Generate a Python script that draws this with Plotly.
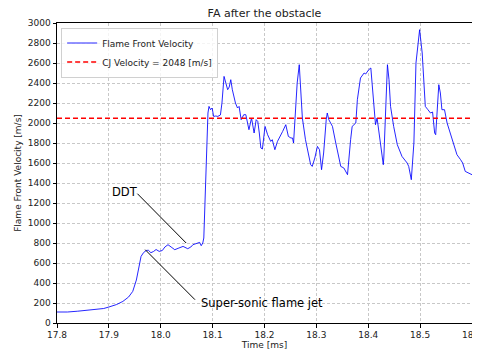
import plotly.graph_objects as go

time_ms = [17.800, 17.820, 17.840, 17.860, 17.875, 17.890, 17.900, 17.915, 17.927, 17.938,
           17.946, 17.953, 17.958, 17.962, 17.967, 17.972, 17.976, 17.981, 17.986, 17.991,
           17.997, 18.003, 18.008, 18.014, 18.020, 18.027, 18.035, 18.043, 18.052, 18.058,
           18.062, 18.068, 18.075, 18.078, 18.081, 18.083, 18.086, 18.089, 18.091, 18.093,
           18.096, 18.099, 18.102, 18.106, 18.110, 18.115, 18.118, 18.122, 18.125, 18.129,
           18.132, 18.135, 18.138, 18.144, 18.148, 18.151, 18.155, 18.160, 18.164, 18.170,
           18.175, 18.180, 18.184, 18.187, 18.190, 18.193, 18.196, 18.201, 18.206, 18.212,
           18.215, 18.220, 18.225, 18.230, 18.235, 18.241, 18.246, 18.251, 18.254, 18.256,
           18.259, 18.263, 18.267, 18.270, 18.273, 18.279, 18.284, 18.289, 18.292, 18.297,
           18.302, 18.306, 18.310, 18.314, 18.319, 18.321, 18.324, 18.331, 18.337, 18.344,
           18.347, 18.353, 18.360, 18.366, 18.369, 18.376, 18.379, 18.385, 18.392, 18.395,
           18.398, 18.401, 18.405, 18.408, 18.413, 18.414, 18.417, 18.421, 18.426, 18.429,
           18.430, 18.437, 18.440, 18.443, 18.449, 18.456, 18.465, 18.475, 18.478, 18.483,
           18.488, 18.492, 18.499, 18.504, 18.510, 18.515, 18.520, 18.524, 18.528, 18.530,
           18.533, 18.536, 18.539, 18.542, 18.547, 18.552, 18.558, 18.565, 18.571, 18.578,
           18.582, 18.587, 18.594, 18.600]
velocity = [110, 110, 118, 130, 140, 145, 160, 185, 216, 260,
            316, 430, 560, 666, 705, 725, 728, 703, 715, 735,
            716, 725, 760, 783, 760, 733, 750, 766, 743, 760,
            783, 795, 806, 773, 800, 850, 1300, 1800, 2100, 2166,
            2133, 2150, 2066, 2070, 2066, 2080, 2200, 2466, 2400, 2333,
            2360, 2433, 2333, 2200, 2150, 2166, 2033, 2083, 2083, 1933,
            2050, 1900, 2033, 2016, 1900, 1750, 1740, 1966, 1883, 1816,
            1833, 1733, 1816, 1860, 1916, 1983, 1866, 1850, 1850, 1800,
            2033, 2400, 2583, 2300, 2050, 1833, 1700, 1583, 1566, 1650,
            1766, 1733, 1533, 1700, 2033, 2100, 2033, 1966, 1810, 1650,
            1566, 1550, 1483, 1833, 1966, 2000, 2233, 2450, 2500, 2490,
            2516, 2533, 2550, 2366, 2100, 1983, 2050, 1866, 1700, 1583,
            1650, 2583, 2433, 2166, 1966, 1783, 1666, 1600, 1566, 1433,
            1800, 2600, 2933, 2700, 2166, 2133, 2100, 2110, 1900, 1883,
            2200, 2383, 2300, 2133, 2133, 2000, 1900, 1783, 1683, 1633,
            1600, 1516, 1500, 1483]

cj_velocity = 2048
x_range = [17.8, 18.6]
y_range = [0, 3000]
x_ticks = [17.8, 17.9, 18.0, 18.1, 18.2, 18.3, 18.4, 18.5, 18.6]
x_ticklabels = ["17.8", "17.9", "18.0", "18.1", "18.2", "18.3", "18.4", "18.5", "18.6"]
y_ticks = list(range(0, 3001, 200))

# annotation anchors (data coords)
ddt_text = (17.902, 1315)
ddt_line = [(17.955, 1293), (18.049, 800)]
jet_text = (18.074, 205)
jet_line = [(17.970, 733), (18.066, 233)]

font = "DejaVu Sans"

fig = go.Figure()
fig.add_trace(go.Scatter(x=time_ms, y=velocity, mode="lines",
                         line=dict(color="rgba(0,0,255,0.85)", width=1),
                         name="Flame Front Velocity"))
fig.add_trace(go.Scatter(x=x_range, y=[cj_velocity, cj_velocity], mode="lines",
                         line=dict(color="#ff0000", width=1.5, dash="5px,3px"),
                         name="CJ Velocity = %d [m/s]" % cj_velocity))

for (p0, p1) in (ddt_line, jet_line):
    fig.add_shape(type="line", xref="x", yref="y", x0=p0[0], y0=p0[1], x1=p1[0], y1=p1[1],
                  line=dict(color="black", width=1))

fig.add_annotation(x=ddt_text[0], y=ddt_text[1], text="DDT", showarrow=False,
                   xanchor="left", yanchor="middle", font=dict(size=11.5, color="black", family=font))
fig.add_annotation(x=jet_text[0], y=jet_text[1], text="Super-sonic flame jet", showarrow=False,
                   xanchor="left", yanchor="middle", font=dict(size=11.5, color="black", family=font))

axis_common = dict(showline=True, linecolor="black", linewidth=1, mirror=True,
                   ticks="outside", ticklen=3.5, tickcolor="black", automargin=False,
                   ticklabeloverflow="allow",
                   showgrid=True, gridcolor="#c8c8c8", griddash="3px,2px", gridwidth=0.8,
                   zeroline=False, tickfont=dict(size=9, color="#222", family=font))

W, H = 472, 343
fig.update_layout(
    width=W, height=H,
    margin=dict(l=49, r=8, t=15, b=28, autoexpand=False),
    paper_bgcolor="white", plot_bgcolor="white",
    title=dict(text="FA after the obstacle", x=0.5, xref="paper", xanchor="center",
               y=1 - 5/H, yanchor="middle", automargin=False,
               font=dict(size=11, color="#222", family=font)),
    xaxis=dict(range=x_range, tickmode="array", tickvals=x_ticks, ticktext=x_ticklabels,
               title=dict(text="Time [ms]", standoff=2, font=dict(size=9, color="#222", family=font)),
               **axis_common),
    yaxis=dict(range=y_range, tickmode="array", tickvals=y_ticks,
               title=dict(text="Flame Front Velocity [m/s]", standoff=4, font=dict(size=9, color="#222", family=font)),
               **axis_common),
    legend=dict(x=0.01, y=0.985, xanchor="left", yanchor="top",
                bgcolor="rgba(255,255,255,0.8)", bordercolor="#d0d0d0", borderwidth=1,
                font=dict(size=9, color="#222", family=font), tracegroupgap=0,
                itemwidth=30),
    showlegend=True,
)

fig.write_html("out.html")
